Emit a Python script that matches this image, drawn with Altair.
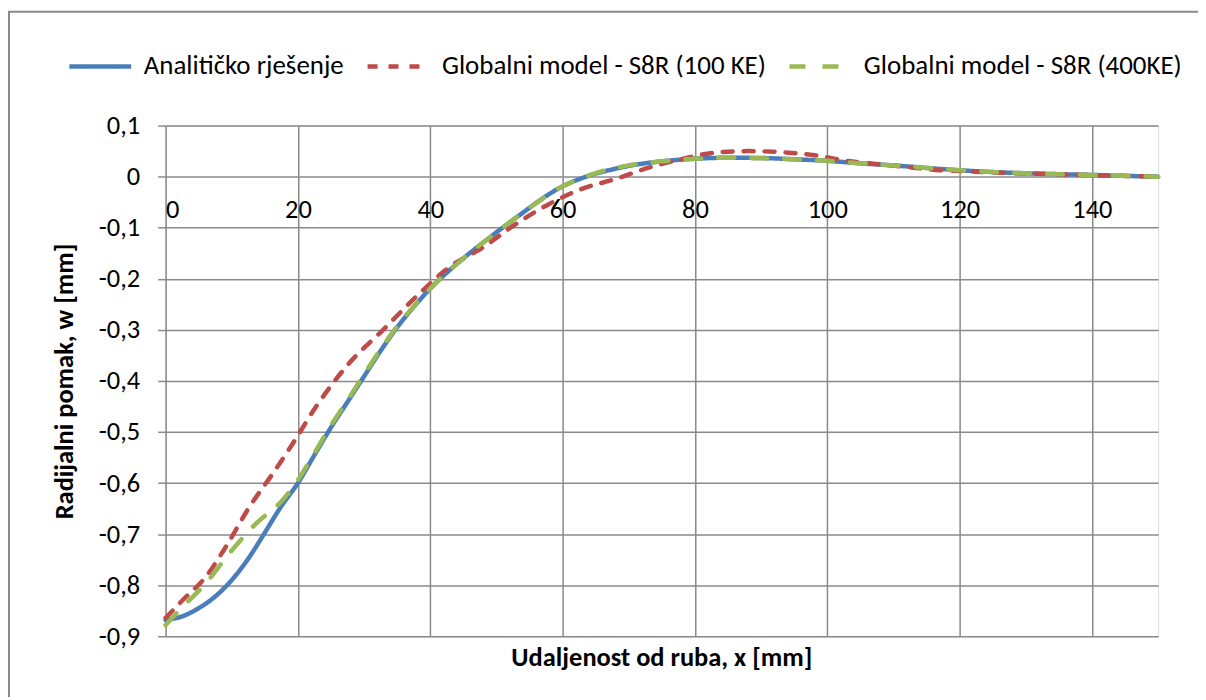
import altair as alt
import pandas as pd

SERIES = ["Analitičko rješenje", "Globalni model - S8R (100 KE)", "Globalni model - S8R (400KE)"]
COLORS = ["#4A7EBB", "#BE4B48", "#98B954"]

x_an = [0, 2.5, 5, 7.5, 10, 12.5, 15, 17.5, 20, 22.5, 25, 27.5, 30, 32.5, 35, 37.5, 40, 42.5,
        45, 47.5, 50, 52.5, 55, 57.5, 60, 62.5, 65, 67.5, 70, 75, 80, 85, 90, 95, 100, 105, 110,
        115, 120, 125, 130, 135, 140, 145, 150]
w_an = [-0.868, -0.861, -0.845, -0.822, -0.790, -0.748, -0.697, -0.645, -0.600, -0.545, -0.491,
        -0.441, -0.391, -0.341, -0.295, -0.255, -0.219, -0.188, -0.160, -0.134, -0.109, -0.085,
        -0.061, -0.038, -0.019, -0.005, 0.006, 0.014, 0.021, 0.030, 0.035, 0.037, 0.0365, 0.034,
        0.031, 0.026, 0.022, 0.017, 0.0125, 0.009, 0.0066, 0.0048, 0.0033, 0.0015, 0.0]

x_100 = [0, 2.6, 6.1, 9.1, 12.7, 16, 19.2, 22.7, 27.7, 32.8, 37.8, 42.8, 47.9, 52.9, 57.9, 62.9,
         67.9, 73, 77.9, 83, 88, 93, 98.1, 103, 108, 113, 117, 120, 130, 140, 150]
w_100 = [-0.864, -0.829, -0.783, -0.725, -0.646, -0.585, -0.523, -0.451, -0.366, -0.301, -0.236,
         -0.178, -0.139, -0.093, -0.054, -0.024, -0.005, 0.0176, 0.034, 0.047, 0.050, 0.048, 0.042,
         0.031, 0.024, 0.0176, 0.0125, 0.011, 0.006, 0.003, 0.0]

x_400 = [0, 2.6, 6.1, 9.6, 13.7, 17.7, 20, 22.5, 25, 27.5, 30, 32.5, 35, 37.5, 40, 45, 50, 55, 60,
         62.5, 65, 70, 75, 80, 85, 90, 95, 100, 105, 110, 115, 120, 130, 140, 150]
w_400 = [-0.878, -0.842, -0.796, -0.738, -0.679, -0.633, -0.594, -0.541, -0.487, -0.438, -0.387,
         -0.338, -0.293, -0.254, -0.219, -0.160, -0.109, -0.061, -0.019, -0.005, 0.007, 0.022,
         0.030, 0.035, 0.037, 0.036, 0.034, 0.031, 0.026, 0.022, 0.017, 0.0125, 0.0066, 0.0033,
         0.0]

X_TICKS = [0, 20, 40, 60, 80, 100, 120, 140]
Y_TICKS = [-0.9, -0.8, -0.7, -0.6, -0.5, -0.4, -0.3, -0.2, -0.1, 0, 0.1]

rows = []
for name, xs, ws in zip(SERIES, [x_an, x_100, x_400], [w_an, w_100, w_400]):
    for xv, wv in zip(xs, ws):
        rows.append({"serija": name, "x": xv, "w": wv})
df = pd.DataFrame(rows)

FONT = "Carlito, Lato, sans-serif"
GRID = "#8a8a8a"
W, H = 995, 512
FS = 26.5

lines = alt.Chart(df).mark_line(strokeWidth=4.5, strokeCap="round", interpolate="monotone").encode(
    x=alt.X("x:Q", scale=alt.Scale(domain=[0, 150], nice=False, zero=False),
            axis=alt.Axis(values=X_TICKS, title="Udaljenost od ruba, x [mm]", offset=-461,
                          domain=False, ticks=False, labelPadding=20, labelFontSize=FS,
                          labelFont=FONT, labelColor="#000", gridColor=GRID, gridWidth=1.5,
                          titleFont=FONT, titleFontSize=FS, titleFontWeight="bold",
                          titleColor="#000", titleX=497, titleY=482, titleBaseline="middle",
                          titleAlign="center", titleAnchor="start")),
    y=alt.Y("w:Q", scale=alt.Scale(domain=[-0.9, 0.1], nice=False, zero=False),
            axis=alt.Axis(values=Y_TICKS, title="Radijalni pomak, w [mm]", domain=False,
                          tickSize=8, tickColor=GRID, tickWidth=1.5, labelPadding=18,
                          labelFontSize=FS, labelFont=FONT, labelColor="#000",
                          labelExpr="replace(toString(round(datum.value*10)/10), '.', ',')",
                          gridColor=GRID, gridWidth=1.5, titleFont=FONT, titleFontSize=FS,
                          titleFontWeight="bold", titleColor="#000", titleX=-101, titleY=256,
                          titleAngle=-90, titleBaseline="middle", titleAlign="center",
                          titleAnchor="start")),
    color=alt.Color("serija:N", scale=alt.Scale(domain=SERIES, range=COLORS),
                    legend=alt.Legend(title=None, orient="none", direction="horizontal",
                                      legendX=-99, legendY=-93, symbolType="stroke",
                                      symbolSize=3844, symbolStrokeWidth=4.5,
                                      labelFont=FONT, labelFontSize=27, labelColor="#000",
                                      labelOffset=10, columnPadding=14, padding=0,
                                      labelLimit=600)),
    strokeDash=alt.StrokeDash("serija:N", scale=alt.Scale(domain=SERIES,
                                                          range=[[1, 0], [10, 11], [16, 17]]),
                              legend=None),
    detail="serija:N",
)

border = alt.Chart(alt.Data(values=[{"b": 1}])).mark_rect(
    filled=False, stroke="#8a8a8a", strokeWidth=2, fill=None
).encode(x=alt.value(-157), x2=alt.value(1400), y=alt.value(-114), y2=alt.value(800))

chart = alt.layer(border, lines).properties(
    width=W, height=H,
    padding={"left": 158, "top": 117, "right": 40, "bottom": 60},
    autosize=alt.AutoSizeParams(type="none"),
).configure_view(stroke=None).configure(background="white")

chart.save("out.html", embed_options={"renderer": "svg", "actions": False})
